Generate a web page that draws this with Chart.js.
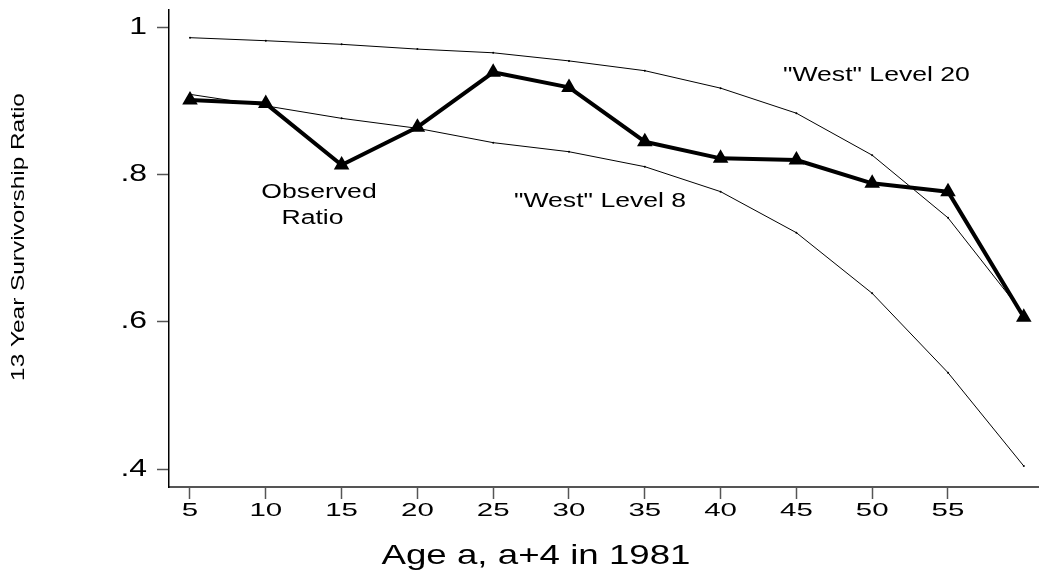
<!DOCTYPE html>
<html>
<head>
<meta charset="utf-8">
<script src="https://cdn.jsdelivr.net/npm/chart.js@4.4.0/dist/chart.umd.min.js"></script>
<style>
html,body{margin:0;padding:0;background:#fff;overflow:hidden}
canvas{display:block}
</style>
</head>
<body>
<canvas id="c" width="1039" height="574"></canvas>
<script>
// ---- data ----
const ages = [5, 10, 15, 20, 25, 30, 35, 40, 45, 50, 55, 60];
const observedRatio = [0.901, 0.896, 0.8127, 0.864, 0.9385, 0.918, 0.8443, 0.8217, 0.8195, 0.7878, 0.7765, 0.606];
const westLevel20 = [0.9855, 0.9814, 0.9765, 0.970, 0.965, 0.954, 0.9407, 0.917, 0.883, 0.826, 0.741, 0.610];
const westLevel8 = [0.9086, 0.893, 0.876, 0.8625, 0.843, 0.8307, 0.8104, 0.7765, 0.7208, 0.6385, 0.5308, 0.404];
const xTickValues = [5, 10, 15, 20, 25, 30, 35, 40, 45, 50, 55];
const xTickLabels = ['5', '10', '15', '20', '25', '30', '35', '40', '45', '50', '55'];
const yTickValues = [0.4, 0.6, 0.8, 1];
const yTickLabels = ['.4', '.6', '.8', '1'];
const seriesLabels = ['Observed Ratio', '"West" Level 20', '"West" Level 8'];
const annotationTexts = ['Observed', 'Ratio', '"West" Level 8', '"West" Level 20'];
const annotationAnchors = [[13.51, 0.776], [13.08, 0.7407], [32.05, 0.7629], [50.28, 0.9342]];
const xTitle = 'Age a, a+4 in 1981';
const yTitle = '13 Year Survivorship Ratio';

const FAMILY = "'Liberation Sans', Arial, sans-serif";

// wide-set lettering (the reference uses a horizontally wide sans face)
const canvas = document.getElementById('c');
const ctx = canvas.getContext('2d');
const proto = CanvasRenderingContext2D.prototype;
window.__textK = null;
ctx.fillText = function (t, x, y) {
  const m = /(\d+(?:\.\d+)?)px/.exec(this.font);
  const size = m ? parseFloat(m[1]) : 12;
  const k = window.__textK || (size === 19 ? 1.55 : 1.33);
  this.save();
  this.translate(x, y);
  this.scale(k, 1);
  proto.fillText.call(this, t, 0, 0);
  this.restore();
};

const zeroPad = s => { s.paddingTop = 0; s.paddingBottom = 0; s.paddingLeft = 0; s.paddingRight = 0; };

const textPlugin = {
  id: 'texts',
  afterDatasetsDraw(chart) {
    const c = chart.ctx;
    const sx = chart.scales.x, sy = chart.scales.y;
    c.save();
    c.fillStyle = '#000';
    c.textAlign = 'center';
    c.textBaseline = 'middle';
    c.font = '20px ' + FAMILY;
    window.__textK = 1.33;
    annotationTexts.forEach((t, i) => {
      c.fillText(t, sx.getPixelForValue(annotationAnchors[i][0]), sy.getPixelForValue(annotationAnchors[i][1]));
    });
    c.font = '28px ' + FAMILY;
    window.__textK = 1.31;
    c.fillText(xTitle, 536, 556.7);
    c.translate(19.4, 237);
    c.rotate(-Math.PI / 2);
    c.font = '18px ' + FAMILY;
    window.__textK = 1.355;
    c.fillText(yTitle, 0, 0);
    window.__textK = null;
    c.restore();
  }
};

new Chart(ctx, {
  type: 'line',
  data: {
    labels: ages,
    datasets: [
      {
        label: seriesLabels[0],
        data: ages.map((a, i) => ({x: a, y: observedRatio[i]})),
        borderColor: '#000',
        backgroundColor: '#000',
        borderWidth: 4,
        borderJoinStyle: 'round',
        pointStyle: 'triangle',
        pointRadius: 6.5,
        pointBorderWidth: 2.5,
        pointBackgroundColor: '#000',
        pointBorderColor: '#000',
        tension: 0,
        fill: false
      },
      {
        label: seriesLabels[1],
        data: ages.map((a, i) => ({x: a, y: westLevel20[i]})),
        borderColor: '#000',
        backgroundColor: '#000',
        borderWidth: 1,
        pointRadius: 1,
        pointBorderWidth: 0,
        tension: 0,
        fill: false
      },
      {
        label: seriesLabels[2],
        data: ages.map((a, i) => ({x: a, y: westLevel8[i]})),
        borderColor: '#000',
        backgroundColor: '#000',
        borderWidth: 1,
        pointRadius: 1,
        pointBorderWidth: 0,
        tension: 0,
        fill: false
      }
    ]
  },
  options: {
    responsive: false,
    animation: false,
    devicePixelRatio: 1,
    layout: {autoPadding: false, padding: {top: 10, left: 0, right: 0, bottom: 0}},
    plugins: {legend: {display: false}, tooltip: {enabled: false}, title: {display: false}},
    scales: {
      x: {
        type: 'linear',
        min: 3.6148,
        max: 61.003,
        afterBuildTicks: s => { s.ticks = xTickValues.map(v => ({value: v})); },
        afterFit: s => { s.height = 87; zeroPad(s); },
        ticks: {
          autoSkip: false,
          maxRotation: 0,
          minRotation: 0,
          padding: 0,
          color: '#000',
          font: {family: FAMILY, size: 19},
          callback: (v, i) => xTickLabels[i]
        },
        grid: {display: true, drawOnChartArea: false, drawTicks: true, tickLength: 12, tickWidth: 1.5, tickColor: '#555'},
        border: {display: true, color: '#555', width: 2}
      },
      y: {
        type: 'linear',
        min: 0.3756,
        max: 1.02308,
        afterBuildTicks: s => { s.ticks = yTickValues.map(v => ({value: v})); },
        afterFit: s => { s.width = 169; zeroPad(s); },
        ticks: {
          padding: 10,
          color: '#000',
          font: {family: FAMILY, size: 24},
          callback: (v, i) => yTickLabels[i]
        },
        grid: {display: true, drawOnChartArea: false, drawTicks: true, tickLength: 12, tickWidth: 1.5, tickColor: '#555'},
        border: {display: true, color: '#000', width: 1.5}
      }
    }
  },
  plugins: [textPlugin]
});
</script>
</body>
</html>
